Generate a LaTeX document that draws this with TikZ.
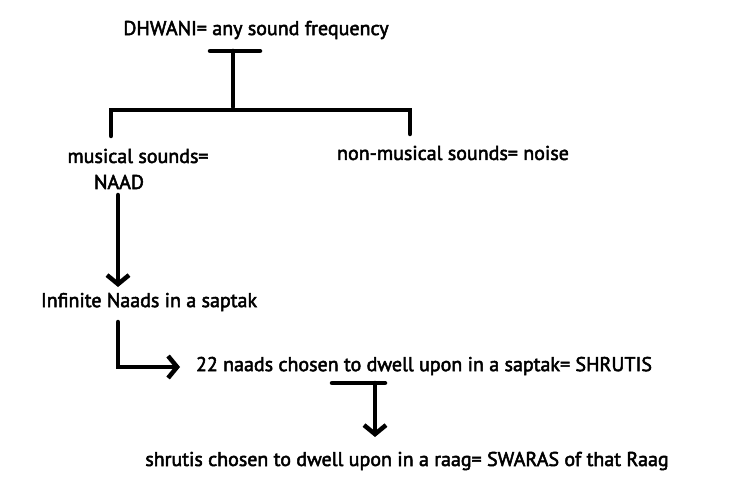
\documentclass[tikz,border=0pt]{standalone}
\usepackage{fontspec}
\newfontfamily\diagfont{PT Sans}[FakeBold=2.5]
\usetikzlibrary{arrows.meta}
\tikzstyle{txt}=[font=\diagfont\fontsize{20}{24}\selectfont, inner sep=0pt]
\tikzstyle{bar}=[draw, line width=4.5pt, line cap=round]
\tikzstyle{arrowbar}=[bar, -{Straight Barb[length=9pt,width=22pt]}]

\begin{document}
\begin{tikzpicture}[x=1pt, y=-1pt]
    \useasboundingbox (0,0) rectangle (735,494);
    % First the texts
    \foreach \pos/\name/\words in {{(256,30)/dhwani/DHWANI= any sound frequency},
    {(138,156)/musical/musical sounds=}, {(119,182)/naad/NAAD},
    {(453,153)/noise/non-musical sounds= noise},
    {(149,302)/infinite/Infinite Naads in a saptak},
    {(424,366)/shrutis/22 naads chosen to dwell upon in a saptak= SHRUTIS},
    {(407,461)/swaras/shrutis chosen to dwell upon in a raag= SWARAS of that Raag}}
        \node[txt] (\name) at \pos {\words};

    % Then the junction points
    \foreach \x/\y/\name in {210/51/topL, 260/51/topR, 233/51/topM, 233/107/topB,
    111/110/splitL, 410/110/splitR, 111/136/musicalTop, 410/134/noiseTop,
    118/195/naadDown, 118/287/infiniteTop, 118/322/infiniteDown, 180/367/shrutisLeft,
    332/383/lowL, 385/383/lowR, 375/383/lowM, 375/437/swarasTop}
        \coordinate (\name) at (\x,\y);

    % Connect with bars and arrows
    \path[bar] (topL) -- (topR);
    \path[bar] (topM) -- (topB);
    \path[bar] (musicalTop) -- (splitL) -- (splitR) -- (noiseTop);
    \path[arrowbar] (naadDown) -- (infiniteTop);
    \path[arrowbar] (infiniteDown) |- (shrutisLeft);
    \path[bar] (lowL) -- (lowR);
    \path[arrowbar] (lowM) -- (swarasTop);
\end{tikzpicture}
\end{document}
